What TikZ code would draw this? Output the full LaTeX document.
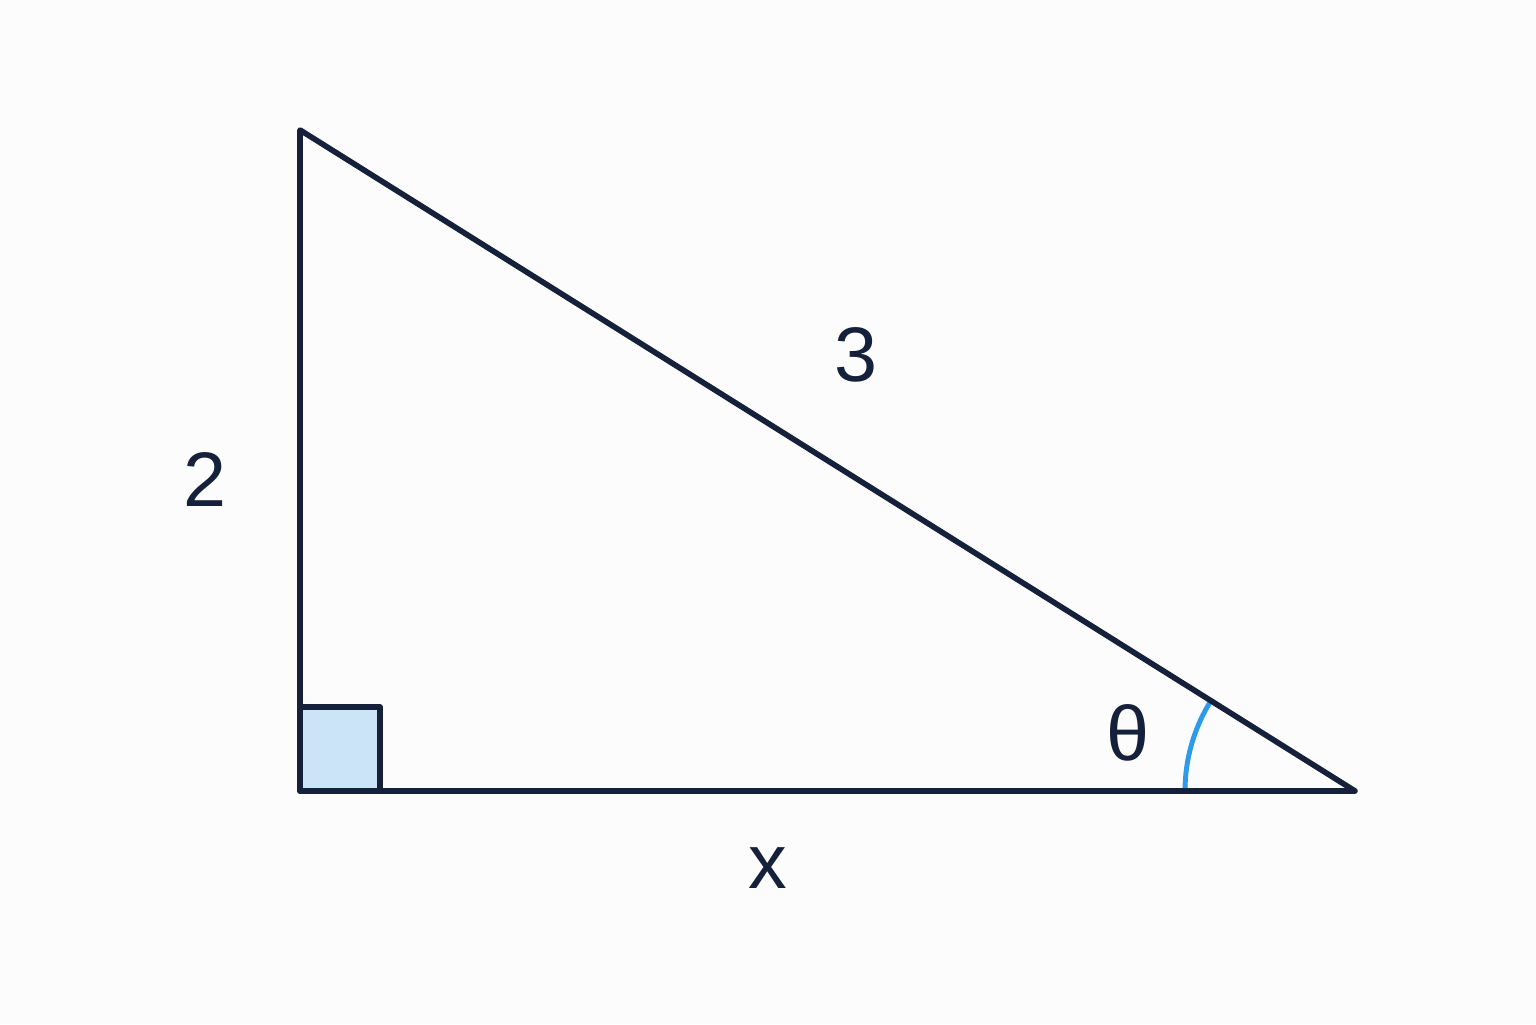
\documentclass[tikz,border=0pt]{standalone}
\usepackage{fontspec}
\setmainfont{Liberation Sans}
\usepackage{tikz}
\usetikzlibrary{calc}
\definecolor{ink}{HTML}{15213A}
\definecolor{arcblue}{HTML}{2E9BEA}
\definecolor{boxfill}{HTML}{CCE4F8}
\definecolor{paper}{HTML}{FCFCFC}
\tikzset{
	side/.style={draw=ink, line width=1.6pt, line join=round, line cap=round},
	lbl/.style={text=ink, font=\fontsize{22}{26}\selectfont}
}

\begin{document}
\begin{tikzpicture}
			\fill[paper] (0,0) rectangle (15.36,10.24);
			\useasboundingbox (0,0) rectangle (15.36,10.24);
			\coordinate (top) at (3.00,8.94);
			\coordinate (corner) at (3.00,2.33);
			\coordinate (tip) at (13.55,2.33);

			\draw[side, fill=boxfill] (corner) rectangle ++(0.80,0.84);
			\draw[arcblue, line width=1.4pt] ($(tip)+(-1.70,0)$) arc[start angle=180, end angle=147.9, radius=1.70];
			\draw[side] (top)--(corner)--(tip)--cycle;

			\node[lbl] (two) at (2.05,5.44) {2};
			\node[lbl] (three) at (8.56,6.69) {3};
			\node[lbl] (ex) at (7.68,1.56) {x};
			\node[lbl] (theta) at (11.28,2.91) {θ};
		\end{tikzpicture}
\end{document}
